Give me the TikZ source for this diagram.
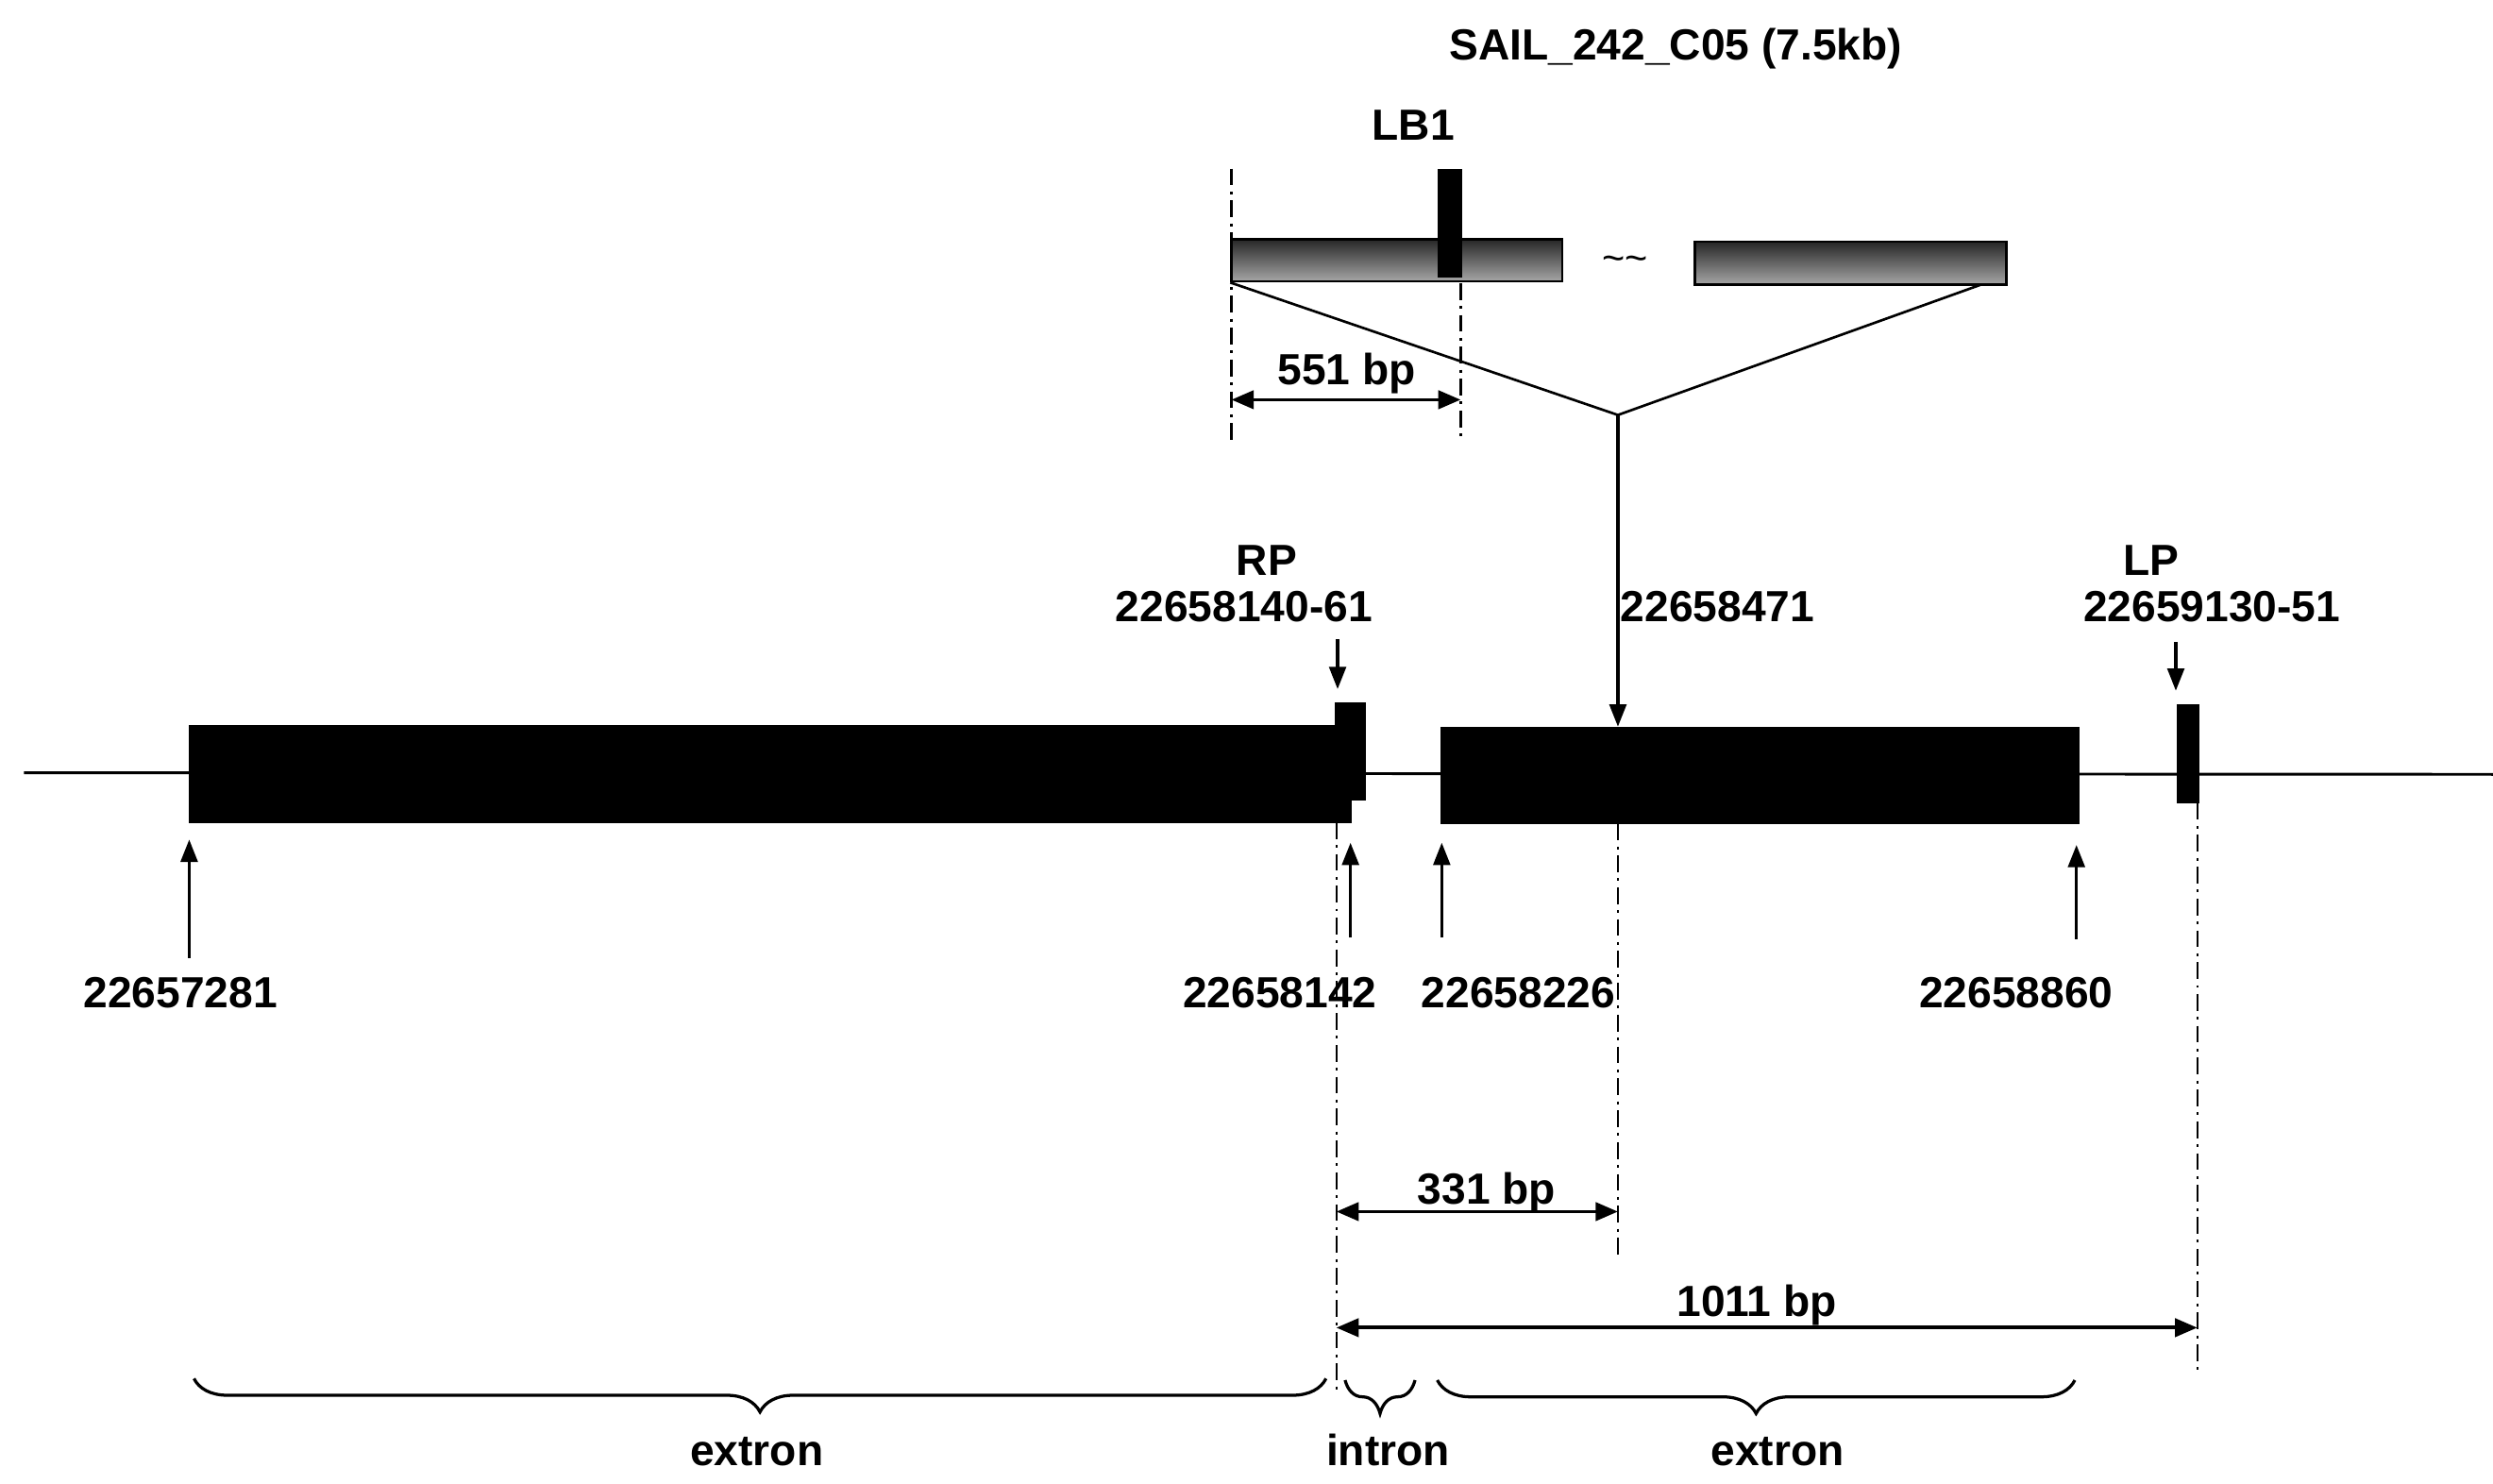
\documentclass[tikz,border=0pt]{standalone}
\usepackage{fontspec}
\setmainfont{Liberation Sans}
\usetikzlibrary{arrows.meta,decorations.pathreplacing}
\newcommand\lblfont{\fontsize{15.6}{18}\selectfont\bfseries}
\begin{document}
\begin{tikzpicture}[x=0.02cm,y=-0.02cm,
  lbl/.style={font=\lblfont, inner sep=0pt, anchor=base},
  lblw/.style={font=\lblfont, inner sep=0pt, anchor=base west},
  ddash/.style={line width=0.8pt, dash pattern=on 6pt off 2.2pt on 1pt off 2.2pt},
  thinline/.style={line width=0.9pt},
  mainline/.style={line width=1pt},
  arr/.style={line width=1.1pt, -{Triangle[length=8pt,width=6pt]}},
  dimarr/.style={line width=1.3pt, {Triangle[length=8pt,width=6.5pt]}-{Triangle[length=8pt,width=6.5pt]}},
  exon/.style={fill=black, draw=black, inner sep=0pt, line width=0.6pt},
  insert/.style={draw=black, line width=0.8pt, top color=black!85, bottom color=black!35, inner sep=0pt},
  mybrace/.style={decorate, decoration={brace, mirror, amplitude=#1}, line width=1.1pt}
]
\useasboundingbox (0,0) rectangle (1568,933);

% main genomic line
\coordinate (ml1) at (15,486);
\coordinate (ml2) at (1568,487);
\draw[mainline] (ml1) -- (ml2);

% exons / boxes
\node[exon, minimum width=14.62cm, minimum height=1.206cm] (ex1) at (484.5,486.9) {};
\node[exon, minimum width=0.372cm, minimum height=1.22cm] (rpb) at (849.3,472.5) {};
\node[exon, minimum width=8.02cm, minimum height=1.208cm] (ex2) at (1107,487.8) {};
\node[exon, minimum width=0.266cm, minimum height=1.22cm] (lpb) at (1376.4,474.2) {};

% T-DNA insert
\node[insert, minimum width=4.16cm, minimum height=0.532cm] (ins1) at (878.5,163.7) {};
\node[insert, minimum width=3.92cm, minimum height=0.54cm] (ins2) at (1164,165.5) {};
\node[exon, minimum width=0.28cm, minimum height=1.34cm] (lbbar) at (912,140.5) {};
\node[inner sep=0pt, font=\fontsize{14}{16}\selectfont] (tilde) at (1022,166) {\textasciitilde\textasciitilde};

% labels top
\node[lbl] (title) at (1054,37.5) {SAIL\_242\_C05 (7.5kb)};
\node[lbl] (lb1) at (889,88) {LB1};
\node[lbl] (bp551) at (847,242) {551 bp};

% insert connection lines
\coordinate (join) at (1017.6,261);
\coordinate (r1) at (1246,179);
\coordinate (instip) at (1017.6,457);
\draw[thinline] (ins1.south west) -- (join) -- (r1);
\draw[arr] (join) -- (instip);

% dash-dot guides (top)
\coordinate (d1t) at (774.5,106);
\coordinate (d1b) at (774.5,278);
\coordinate (d2t) at (918.7,178);
\coordinate (d2b) at (918.7,278);
\draw[ddash] (d1t) -- (d1b);
\draw[ddash] (d2t) -- (d2b);
\coordinate (a551l) at (774.5,251.4);
\coordinate (a551r) at (918.7,251.4);
\draw[dimarr] (a551l) -- (a551r);

% RP / LP labels
\node[lbl] (rp) at (796.7,362) {RP};
\node[lbl] (rpn) at (782.5,391) {22658140-61};
\node[lblw] (insn) at (1019,391) {22658471};
\node[lbl] (lp) at (1353,362) {LP};
\node[lblw] (lpn) at (1310,391) {22659130-51};
\coordinate (rpa1) at (841.3,401.8);
\coordinate (rpa2) at (841.3,433.4);
\coordinate (lpa1) at (1368.5,403.7);
\coordinate (lpa2) at (1368.5,434.4);
\draw[arr] (rpa1) -- (rpa2);
\draw[arr] (lpa1) -- (lpa2);

% up arrows with coordinates
\coordinate (u1b) at (119,602.6);  \coordinate (u1t) at (119,528);
\coordinate (u2b) at (849.4,589.6); \coordinate (u2t) at (849.4,530);
\coordinate (u3b) at (906.8,589.6); \coordinate (u3t) at (906.8,530);
\coordinate (u4b) at (1306,590.7); \coordinate (u4t) at (1306,531.4);
\draw[arr] (u1b) -- (u1t);
\draw[arr] (u2b) -- (u2t);
\draw[arr] (u3b) -- (u3t);
\draw[arr] (u4b) -- (u4t);
\node[lbl] (n1) at (113.6,634) {22657281};
\node[lbl] (n2) at (805,634) {22658142};
\node[lbl] (n3) at (955,634) {22658226};
\node[lbl] (n4) at (1268,634) {22658860};

% lower dash-dot guides
\coordinate (g1t) at (840.5,517); \coordinate (g1b) at (840.5,876);
\coordinate (g2t) at (1017.6,518); \coordinate (g2b) at (1017.6,790);
\coordinate (g3t) at (1382,505); \coordinate (g3b) at (1382,863);
\draw[ddash] (g1t) -- (g1b);
\draw[ddash] (g2t) -- (g2b);
\draw[ddash] (g3t) -- (g3b);
\coordinate (a331l) at (840.5,762); \coordinate (a331r) at (1017.6,762);
\coordinate (a1011l) at (840.5,835); \coordinate (a1011r) at (1382,835);
\draw[dimarr] (a331l) -- (a331r);
\draw[dimarr] (a1011l) -- (a1011r);
\node[lbl] (bp331) at (935,757) {331 bp};
\node[lbl] (bp1011) at (1105,828) {1011 bp};

% braces
\coordinate (b1l) at (122,867); \coordinate (b1r) at (834,867);
\coordinate (b2l) at (846,868); \coordinate (b2r) at (890,868);
\coordinate (b3l) at (904,868); \coordinate (b3r) at (1305,868);
\draw[mybrace=0.42cm] (b1l) -- (b1r);
\draw[mybrace=0.42cm] (b2l) -- (b2r);
\draw[mybrace=0.42cm] (b3l) -- (b3r);
\node[lbl] (ext1) at (476,922) {extron};
\node[lbl] (intr) at (873,922) {intron};
\node[lbl] (ext2) at (1118,922) {extron};
\end{tikzpicture}
\end{document}
